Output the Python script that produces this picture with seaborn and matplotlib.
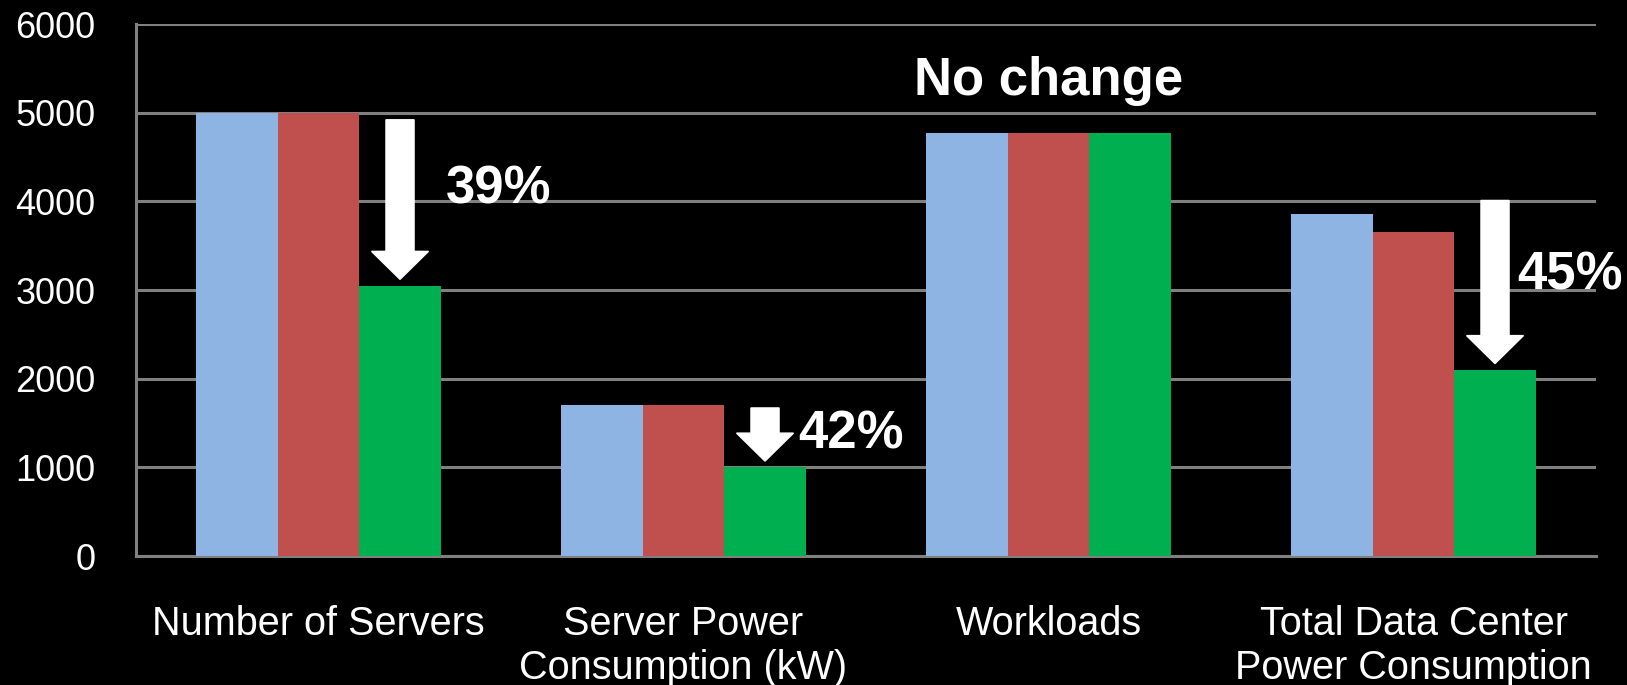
import pandas as pd
import numpy as np
import matplotlib
matplotlib.use("Agg")
import matplotlib.pyplot as plt
import seaborn as sns

# data
categories = ["Number of Servers", "Server Power\nConsumption (kW)", "Workloads",
              "Total Data Center\nPower Consumption"]
series = ["Before", "Step 1", "Step 2"]
before = [5000, 1700, 4770, 3860]
step1 = [5000, 1700, 4770, 3650]
step2 = [3050, 1000, 4770, 2100]
colors = ["#8EB4E3", "#C0504D", "#00B050"]

# reduction arrows: group index, arrow start value, label, label position
arrow_groups = [0, 1, 3]
arrow_start = [4920, 1670, 4010]
pct_labels = ["39%", "42%", "45%"]
pct_x = [0.35, 1.315, 3.285]
pct_y = [3980, 1215, 3000]

df = pd.DataFrame({
    "category": categories * 3,
    "series": np.repeat(series, len(categories)),
    "value": before + step1 + step2,
})

sns.set_style("dark")
plt.rcParams["font.family"] = ["Liberation Sans", "DejaVu Sans"]

grid_col = "#808080"
fig = plt.figure(figsize=(16.27, 6.85), dpi=100, facecolor="black")
ax = fig.add_axes([136 / 1627, 1 - 556 / 685, 1460 / 1627, 532 / 685])
ax.set_facecolor("black")

bar_w = 0.67
sns.barplot(data=df, x="category", y="value", hue="series", order=categories,
            hue_order=series, palette=colors, width=bar_w, saturation=1,
            gap=0, legend=False, linewidth=0, ax=ax, zorder=3)

ax.set_xlim(-0.5, len(categories) - 0.5)
ax.set_ylim(0, 6000)
ax.set_yticks(range(0, 6001, 1000))
ax.yaxis.grid(True, color=grid_col, linewidth=2.2, zorder=0)
ax.xaxis.grid(False)
ax.set_axisbelow(True)
ax.set_xlabel("")
ax.set_ylabel("")

for s in ["top", "right"]:
    ax.spines[s].set_visible(False)
for s in ["left", "bottom"]:
    ax.spines[s].set_color(grid_col)
    ax.spines[s].set_linewidth(2.2)

ax.set_xticks(np.arange(-0.5, len(categories)), minor=True)
ax.tick_params(axis="x", which="major", length=0, pad=35, labelsize=28.5, colors="white")
ax.tick_params(axis="x", which="minor", length=8.5, width=2.2, color=grid_col, direction="out")
ax.tick_params(axis="y", length=8, width=2.2, color=grid_col, labelcolor="white",
               labelsize=26, pad=21, direction="out")
for lab in ax.get_xticklabels():
    lab.set_linespacing(1.22)

# arrows from just below the top down to the green bar
green_off = bar_w / 3
for g, top, lab, tx, ty in zip(arrow_groups, arrow_start, pct_labels, pct_x, pct_y):
    tip = step2[g] + 70
    ax.arrow(g + green_off, top, 0, tip - top, width=0.077, head_width=0.156,
             head_length=316, length_includes_head=True, color="white", zorder=5)
    ax.text(tx, ty, lab, color="white", fontsize=38, fontweight="bold",
            ha="left", va="baseline", zorder=6)

ax.text(2.0, 5195, "No change", color="white", fontsize=38, fontweight="bold",
        ha="center", va="baseline", zorder=6)

fig.savefig("out.png", dpi=100, facecolor="black")
